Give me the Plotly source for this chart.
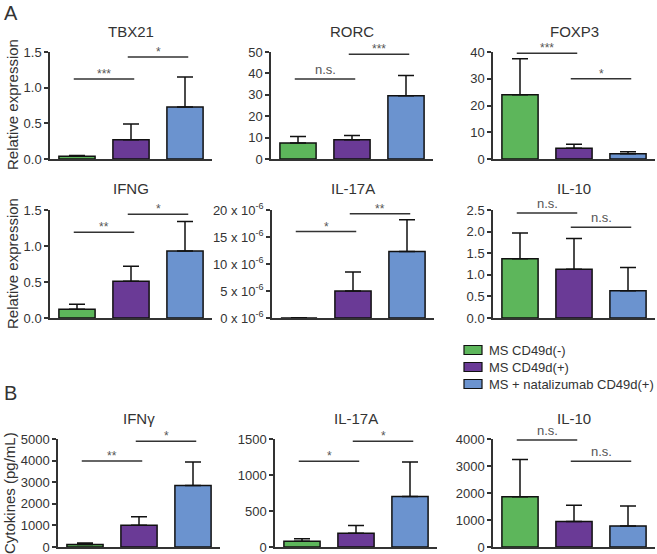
import plotly.graph_objects as go

W, H = 657, 554

GROUPS = ["MS CD49d(-)", "MS CD49d(+)", "MS + natalizumab CD49d(+)"]
COLORS = ["#5DB65B", "#6A3A96", "#6B93CF"]

# Panel A: relative expression (mean, upper error)
TBX21_MEAN = [0.04, 0.27, 0.73]
TBX21_ERR = [0.01, 0.22, 0.42]
RORC_MEAN = [7.5, 9.0, 29.5]
RORC_ERR = [3.0, 2.0, 9.5]
FOXP3_MEAN = [24.0, 4.0, 2.0]
FOXP3_ERR = [13.5, 1.5, 0.7]
IFNG_MEAN = [0.12, 0.51, 0.93]
IFNG_ERR = [0.07, 0.21, 0.41]
IL17A_MEAN = [0.0, 5.0, 12.3]   # x 10^-6
IL17A_ERR = [0.05, 3.5, 5.9]
IL10_MEAN = [1.37, 1.13, 0.63]
IL10_ERR = [0.60, 0.71, 0.54]

# Panel B: cytokines (pg/mL)
IFNy_MEAN = [110, 1010, 2850]
IFNy_ERR = [70, 390, 1090]
IL17A_B_MEAN = [80, 190, 700]
IL17A_B_ERR = [35, 110, 480]
IL10_B_MEAN = [1860, 940, 780]
IL10_B_ERR = [1380, 610, 740]

# significance brackets: (from, to, height, label)
TBX21_SIG = [(0, 1, 1.12, "***"), (1, 2, 1.43, "*")]
RORC_SIG = [(0, 1, 37.4, "n.s."), (1, 2, 49, "***")]
FOXP3_SIG = [(0, 1, 39.5, "***"), (1, 2, 30, "*")]
IFNG_SIG = [(0, 1, 1.19, "**"), (1, 2, 1.44, "*")]
IL17A_SIG = [(0, 1, 16, "*"), (1, 2, 19.3, "**")]
IL10_SIG = [(0, 1, 2.43, "n.s."), (1, 2, 2.1, "n.s.")]
IFNy_SIG = [(0, 1, 3980, "**"), (1, 2, 4900, "*")]
IL17A_B_SIG = [(0, 1, 1190, "*"), (1, 2, 1470, "*")]
IL10_B_SIG = [(0, 1, 3960, "n.s."), (1, 2, 3180, "n.s.")]

TICKS_15 = [0, 0.5, 1.0, 1.5]
TICKS_25 = [0, 0.5, 1.0, 1.5, 2.0, 2.5]
IL17A_TICKS = [0, 5, 10, 15, 20]
IL17A_TICKTEXT = [f"{t} x 10<sup>-6</sup>" for t in IL17A_TICKS]

panels = [
    ("TBX21", TBX21_MEAN, TBX21_ERR, TBX21_SIG, TICKS_15, [f"{t:.1f}" for t in TICKS_15]),
    ("RORC", RORC_MEAN, RORC_ERR, RORC_SIG, [0, 10, 20, 30, 40, 50], None),
    ("FOXP3", FOXP3_MEAN, FOXP3_ERR, FOXP3_SIG, [0, 10, 20, 30, 40], None),
    ("IFNG", IFNG_MEAN, IFNG_ERR, IFNG_SIG, TICKS_15, [f"{t:.1f}" for t in TICKS_15]),
    ("IL-17A", IL17A_MEAN, IL17A_ERR, IL17A_SIG, IL17A_TICKS, IL17A_TICKTEXT),
    ("IL-10", IL10_MEAN, IL10_ERR, IL10_SIG, TICKS_25, [f"{t:.1f}" for t in TICKS_25]),
    ("IFNγ", IFNy_MEAN, IFNy_ERR, IFNy_SIG, [0, 1000, 2000, 3000, 4000, 5000], None),
    ("IL-17A", IL17A_B_MEAN, IL17A_B_ERR, IL17A_B_SIG, [0, 500, 1000, 1500], None),
    ("IL-10", IL10_B_MEAN, IL10_B_ERR, IL10_B_SIG, [0, 1000, 2000, 3000, 4000], None),
]

# plot boxes in pixels: (left, right, top, bottom)
boxes = [
    (50, 212, 52, 159), (271, 433, 52, 159), (493, 655, 52, 159),
    (50, 212, 210, 318), (272, 434, 210, 318), (493, 655, 210, 318),
    (58, 220, 439, 547), (275, 437, 439, 547), (493, 655, 439, 547),
]

FONT = "Liberation Sans, Arial, sans-serif"
TXT = "#333333"

fig = go.Figure()
layout = {}
annotations = []
shapes = []

for k, ((title, mean, err, sig, ticks, ticktext), (l, r, t, b)) in enumerate(zip(panels, boxes)):
    n = "" if k == 0 else str(k + 1)
    xa, ya = "x" + n, "y" + n
    for i, (m, e) in enumerate(zip(mean, err)):
        fig.add_trace(go.Bar(
            x=[i], y=[m], width=0.67, xaxis=xa, yaxis=ya,
            name=GROUPS[i], showlegend=False,
            marker=dict(color=COLORS[i], line=dict(color="#111111", width=1.5)),
            error_y=dict(type="data", symmetric=False, array=[e], arrayminus=[0],
                         color="#111111", thickness=1.5, width=8),
        ))
    layout["xaxis" + n] = dict(
        domain=[l / W, r / W], range=[-0.5, 2.5], anchor=ya,
        showline=True, linecolor=TXT, linewidth=1.5, showticklabels=False,
        ticks="", showgrid=False, zeroline=False, fixedrange=True,
    )
    ya_cfg = dict(
        domain=[1 - b / H, 1 - t / H], range=[0, ticks[-1]], anchor=xa,
        showline=True, linecolor=TXT, linewidth=1.5, ticks="outside", ticklen=4,
        tickwidth=1.5, tickcolor=TXT, tickvals=ticks, showgrid=False, zeroline=False,
        tickfont=dict(size=13, color=TXT, family=FONT), automargin=False,
        ticklabeloverflow="allow",
    )
    if ticktext is not None:
        ya_cfg["ticktext"] = ticktext
    layout["yaxis" + n] = ya_cfg

    annotations.append(dict(
        x=(l + r) / 2 / W, y=1 - (t - 21) / H, xref="paper", yref="paper",
        text=title, showarrow=False, xanchor="center", yanchor="middle",
        font=dict(size=15, color=TXT, family=FONT),
    ))
    for i, j, h, lab in sig:
        shapes.append(dict(type="line", xref=xa, yref=ya, x0=i - 0.06, x1=j + 0.06,
                           y0=h, y1=h, line=dict(color=TXT, width=1.5)))
        star = lab != "n.s."
        annotations.append(dict(
            x=(i + j) / 2, y=h, xref=xa, yref=ya, text=lab, showarrow=False,
            xanchor="center", yanchor="bottom", yshift=-4 if star else 0,
            font=dict(size=12 if star else 13, color="#555555", family=FONT),
        ))

# legend drawn as boxes + labels
for i, (name, col) in enumerate(zip(GROUPS, COLORS)):
    yc = 350 + 17 * i
    shapes.append(dict(type="rect", xref="paper", yref="paper",
                       x0=464 / W, x1=482 / W, y0=1 - (yc + 4.5) / H, y1=1 - (yc - 4.5) / H,
                       fillcolor=col, line=dict(color="#111111", width=1.2)))
    annotations.append(dict(x=487 / W, y=1 - yc / H, xref="paper", yref="paper", text=name,
                            showarrow=False, xanchor="left", yanchor="middle",
                            font=dict(size=13, color=TXT, family=FONT)))

# y-axis titles and panel letters
for text, x, y in [("Relative expression", 12, 105), ("Relative expression", 12, 264),
                   ("Cytokines (pg/mL)", 9, 493)]:
    annotations.append(dict(x=x / W, y=1 - y / H, xref="paper", yref="paper", text=text,
                            textangle=-90, showarrow=False, xanchor="center", yanchor="middle",
                            font=dict(size=15, color=TXT, family=FONT)))
for text, y in [("A", 13), ("B", 393)]:
    annotations.append(dict(x=2 / W, y=1 - y / H, xref="paper", yref="paper", text=text,
                            showarrow=False, xanchor="left", yanchor="middle",
                            font=dict(size=20, color=TXT, family=FONT)))

fig.update_layout(
    **layout,
    width=W, height=H, margin=dict(l=0, r=0, t=0, b=0, autoexpand=False),
    paper_bgcolor="white", plot_bgcolor="white",
    barmode="overlay", annotations=annotations, shapes=shapes,
    font=dict(family=FONT, color=TXT), showlegend=False,
)

fig.write_html("out.html", config={"displayModeBar": False},
               post_script="document.body.style.margin='0';document.body.style.overflow='hidden';")
